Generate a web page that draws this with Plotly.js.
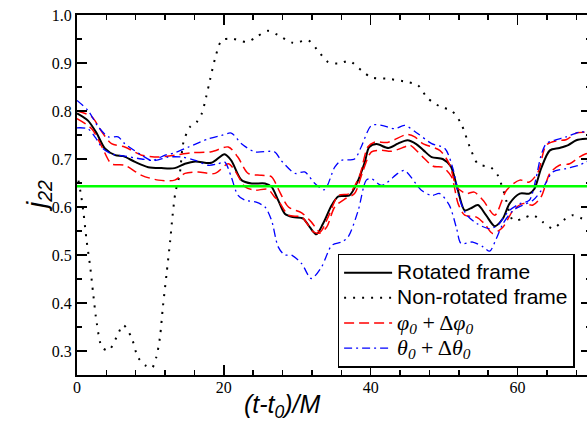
<!DOCTYPE html>
<html>
<head>
<meta charset="utf-8">
<script src="https://cdn.plot.ly/plotly-3.0.1.min.js"></script>
<style>
html, body { margin: 0; padding: 0; overflow: hidden; background: #fff; }
#chart { width: 591px; height: 426px; }
</style>
</head>
<body>
<div id="chart"></div>
<script>
// Rotated frame (solid black)
const rotX = [0, 1.5, 2.7, 3.8, 5.2, 6.3, 7.9, 9.7, 11.5, 13.3, 14.7, 16.1, 18.3, 20.1, 21.0, 22.4, 23.8, 25.6, 26.5, 27.4, 28.3, 29.4, 30.8, 31.7, 32.6, 33.5, 34.7, 35.6, 37.1, 38.3, 39.2, 39.8, 40.8, 42.4, 43.7, 45.0, 46.2, 47.2, 48.3, 49.8, 50.9, 51.7, 52.8, 53.6, 54.6, 55.7, 56.9, 58.0, 58.9, 60.3, 61.6, 62.3, 63.2, 64.4, 65.7, 66.9, 68.0, 69.3, 70];
const rotY = [0.795, 0.78, 0.753, 0.722, 0.708, 0.706, 0.694, 0.683, 0.681, 0.681, 0.69, 0.695, 0.692, 0.71, 0.697, 0.656, 0.649, 0.649, 0.642, 0.614, 0.586, 0.579, 0.576, 0.558, 0.543, 0.565, 0.604, 0.622, 0.624, 0.656, 0.694, 0.725, 0.731, 0.723, 0.732, 0.739, 0.731, 0.718, 0.704, 0.70, 0.685, 0.645, 0.593, 0.597, 0.604, 0.583, 0.56, 0.576, 0.607, 0.628, 0.628, 0.638, 0.68, 0.718, 0.723, 0.729, 0.739, 0.742, 0.742];

// Non-rotated frame (dotted black)
const nonX = [0.2, 0.6, 0.9, 1.3, 1.8, 2.2, 2.7, 3.4, 4.3, 5.4, 6.3, 7.4, 8.3, 9.3, 10.2, 10.8, 11.3, 11.7, 12.2, 12.7, 13.0, 13.4, 14.0, 14.5, 15.4, 16.3, 17.0, 17.6, 18.1, 18.8, 19.7, 21.0, 23.1, 24.4, 26.0, 27.4, 29.4, 31.5, 32.8, 34.2, 35.6, 37.1, 38.7, 40.1, 42.4, 45.1, 46.4, 47.8, 49.6, 51.0, 52.3, 53.5, 54.6, 56.4, 57.3, 58.2, 59.4, 60.7, 62.1, 63.4, 64.8, 66.2, 67.5, 68.8, 70];
const nonY = [0.655, 0.62, 0.586, 0.531, 0.475, 0.42, 0.357, 0.308, 0.301, 0.329, 0.354, 0.329, 0.287, 0.27, 0.265, 0.287, 0.329, 0.392, 0.461, 0.531, 0.58, 0.63, 0.67, 0.735, 0.767, 0.777, 0.795, 0.83, 0.864, 0.909, 0.947, 0.951, 0.944, 0.954, 0.967, 0.958, 0.942, 0.947, 0.926, 0.902, 0.899, 0.904, 0.885, 0.87, 0.867, 0.86, 0.854, 0.826, 0.808, 0.801, 0.774, 0.725, 0.69, 0.682, 0.666, 0.628, 0.572, 0.576, 0.583, 0.569, 0.555, 0.572, 0.583, 0.576, 0.57];

// phi_0 + delta phi_0 (red dashed, two curves)
const phiUpX = [0, 2.0, 3.4, 4.7, 6.5, 8.8, 11.1, 13.3, 15.6, 18.3, 20.6, 21.9, 23.3, 25.1, 26.5, 27.4, 28.8, 30.6, 31.9, 33.1, 34.2, 35.6, 37.1, 38.5, 39.6, 40.5, 42.4, 44.9, 46.0, 47.1, 49.4, 50.7, 51.7, 53.0, 54.1, 55.3, 56.9, 58.5, 60.3, 61.6, 62.8, 63.9, 65.3, 66.6, 68.0, 69.3, 70];
const phiUpY = [0.80, 0.788, 0.756, 0.732, 0.725, 0.708, 0.704, 0.708, 0.713, 0.715, 0.725, 0.704, 0.67, 0.666, 0.663, 0.638, 0.60, 0.588, 0.569, 0.548, 0.579, 0.624, 0.628, 0.666, 0.725, 0.735, 0.735, 0.751, 0.746, 0.732, 0.718, 0.69, 0.642, 0.628, 0.631, 0.614, 0.583, 0.635, 0.656, 0.652, 0.673, 0.729, 0.738, 0.74, 0.754, 0.756, 0.757];
const phiLoX = [0, 2.0, 3.4, 4.7, 6.5, 8.8, 11.1, 13.3, 14.7, 16.5, 18.8, 20.6, 21.5, 22.9, 24.2, 26.0, 26.9, 27.4, 28.8, 30.6, 32.2, 33.1, 34.0, 35.1, 36.5, 37.8, 38.9, 40.1, 41.5, 42.8, 44.6, 45.3, 47.1, 48.5, 49.8, 51.0, 51.9, 52.8, 54.4, 55.5, 56.6, 58.0, 59.4, 60.7, 62.1, 63.2, 64.4, 65.7, 67.1, 68.4, 69.3, 70];
const phiLoY = [0.784, 0.763, 0.725, 0.69, 0.687, 0.666, 0.656, 0.656, 0.67, 0.673, 0.67, 0.69, 0.676, 0.642, 0.635, 0.637, 0.621, 0.614, 0.583, 0.579, 0.548, 0.546, 0.558, 0.60, 0.617, 0.628, 0.673, 0.715, 0.718, 0.716, 0.725, 0.729, 0.704, 0.685, 0.683, 0.663, 0.607, 0.583, 0.579, 0.565, 0.545, 0.558, 0.593, 0.607, 0.604, 0.621, 0.67, 0.687, 0.69, 0.704, 0.711, 0.713];

// theta_0 + delta theta_0 (blue dash-dot, two curves)
const thUpX = [0, 1.5, 2.9, 4.3, 5.6, 6.5, 8.8, 10.2, 12.0, 13.3, 15.2, 17.9, 19.7, 21.0, 22.4, 24.2, 26.9, 27.8, 29.7, 31.0, 32.4, 33.7, 35.1, 36.0, 37.8, 38.7, 40.1, 41.5, 43.3, 44.6, 46.4, 48.3, 50.1, 51.2, 52.1, 53.0, 54.5, 56.2, 57.3, 58.0, 58.9, 60.3, 61.6, 62.5, 63.2, 63.9, 65.0, 66.6, 68.4, 70];
const thUpY = [0.822, 0.801, 0.767, 0.746, 0.746, 0.732, 0.708, 0.697, 0.708, 0.713, 0.725, 0.742, 0.749, 0.754, 0.732, 0.715, 0.715, 0.697, 0.67, 0.673, 0.649, 0.636, 0.683, 0.697, 0.70, 0.725, 0.77, 0.77, 0.763, 0.77, 0.753, 0.732, 0.722, 0.68, 0.617, 0.585, 0.565, 0.555, 0.562, 0.576, 0.593, 0.607, 0.614, 0.659, 0.708, 0.732, 0.739, 0.746, 0.756, 0.756];
const thLoX = [0, 1.5, 2.5, 3.5, 4.8, 6.5, 8.8, 10.7, 12.4, 14.3, 16.1, 17.9, 19.2, 20.1, 21.0, 21.9, 22.9, 24.4, 25.6, 26.5, 27.4, 28.3, 29.2, 30.6, 31.9, 33.3, 34.7, 36.0, 36.9, 38.3, 39.4, 40.1, 41.5, 43.7, 44.6, 46.9, 48.3, 49.4, 50.7, 51.7, 52.3, 53.9, 55.3, 56.2, 57.1, 58.0, 59.4, 60.7, 62.1, 63.4, 64.8, 66.6, 68.4, 69.3, 70];
const thLoY = [0.765, 0.763, 0.745, 0.722, 0.71, 0.706, 0.70, 0.697, 0.704, 0.704, 0.697, 0.687, 0.69, 0.694, 0.663, 0.625, 0.614, 0.61, 0.60, 0.572, 0.517, 0.50, 0.50, 0.482, 0.451, 0.475, 0.52, 0.527, 0.537, 0.593, 0.656, 0.659, 0.645, 0.67, 0.676, 0.635, 0.624, 0.628, 0.604, 0.555, 0.524, 0.527, 0.517, 0.508, 0.534, 0.565, 0.593, 0.604, 0.614, 0.638, 0.673, 0.68, 0.687, 0.694, 0.697];

// Horizontal reference level (green)
const refX = [0, 70];
const refY = [0.643, 0.643];

const legendNames = [
  '<span style="font-size:21px">Rotated frame</span>',
  '<span style="font-size:21px">Non-rotated frame</span>',
  '<span style="font-family:Liberation Serif;font-size:22px"><i>φ<sub>0</sub></i> + Δ<i>φ<sub>0</sub></i></span>',
  '<span style="font-family:Liberation Serif;font-size:22px"><i>θ<sub>0</sub></i> + Δ<i>θ<sub>0</sub></i></span>'
];
const xTickVals = [0, 20, 40, 60];
const xTickText = ['0', '20', '40', '60'];
const yTickVals = [0.3, 0.4, 0.5, 0.6, 0.7, 0.8, 0.9, 1.0];
const yTickText = ['0.3', '0.4', '0.5', '0.6', '0.7', '0.8', '0.9', '1.0'];

const SERIF = 'Liberation Serif';
const SANS = 'Liberation Sans';
const serifLabel = t => '<span style="font-family:Liberation Serif;font-size:16px">' + t + '</span>';

const traces = [
  {x: rotX, y: rotY, name: legendNames[0], mode: 'lines', line: {color: '#000', width: 2, shape: 'spline', smoothing: 0.8}},
  {x: nonX, y: nonY, name: legendNames[1], mode: 'lines', line: {color: '#000', width: 2, dash: '2px,7px', shape: 'spline', smoothing: 0.8}},
  {x: phiUpX, y: phiUpY, name: legendNames[2], legendgroup: 'phi', mode: 'lines', line: {color: '#ff0000', width: 1.5, dash: '10px,5px', shape: 'spline', smoothing: 0.8}},
  {x: phiLoX, y: phiLoY, name: legendNames[2], legendgroup: 'phi', showlegend: false, mode: 'lines', line: {color: '#ff0000', width: 1.5, dash: '10px,5px', shape: 'spline', smoothing: 0.8}},
  {x: thUpX, y: thUpY, name: legendNames[3], legendgroup: 'th', mode: 'lines', line: {color: '#0000ff', width: 1.3, dash: '8px,4px,2px,4px', shape: 'spline', smoothing: 0.8}},
  {x: thLoX, y: thLoY, name: legendNames[3], legendgroup: 'th', showlegend: false, mode: 'lines', line: {color: '#0000ff', width: 1.3, dash: '8px,4px,2px,4px', shape: 'spline', smoothing: 0.8}},
  {x: refX, y: refY, showlegend: false, mode: 'lines', line: {color: '#00ff00', width: 2.5}, hoverinfo: 'skip'}
];

const layout = {
  width: 591, height: 426,
  margin: {l: 77, r: 0, t: 15, b: 51, pad: 0},
  font: {family: SERIF, size: 16, color: '#000'},
  paper_bgcolor: '#fff', plot_bgcolor: '#fff',
  showlegend: true,
  xaxis: {
    range: [0, 70], tickmode: 'array', tickvals: xTickVals, ticktext: xTickText.map(serifLabel),
    ticks: 'inside', ticklen: 10, tickwidth: 1.5, tickcolor: '#000',
    showline: true, linecolor: '#000', linewidth: 2, mirror: 'allticks', showgrid: false, zeroline: false,
    tickfont: {family: SERIF, size: 16, color: '#000'}, ticklabelstandoff: -3,
    minor: {dtick: 4, ticks: 'inside', ticklen: 5, tickwidth: 1.5, tickcolor: '#000', showgrid: false}
  },
  yaxis: {
    range: [0.25, 1.0], tickmode: 'array', tickvals: yTickVals, ticktext: yTickText.map(serifLabel),
    ticks: 'inside', ticklen: 10, tickwidth: 1.5, tickcolor: '#000',
    showline: true, linecolor: '#000', linewidth: 2, mirror: 'allticks', showgrid: false, zeroline: false,
    tickfont: {family: SERIF, size: 16, color: '#000'},
    minor: {dtick: 0.05, tick0: 0.25, ticks: 'inside', ticklen: 5, tickwidth: 1.5, tickcolor: '#000', showgrid: false}
  },
  legend: {
    x: 0.507, y: 0.337, xanchor: 'left', yanchor: 'top',
    bgcolor: '#fff', bordercolor: '#000', borderwidth: 1.5,
    font: {family: SANS, size: 17, color: '#000'},
    itemwidth: 48, tracegroupgap: 0
  },
  annotations: [
    {text: '<i>(t-t<sub>0</sub>)/M</i>', xref: 'paper', yref: 'paper', x: 0.40, y: 0, yshift: -31,
     xanchor: 'center', yanchor: 'middle', showarrow: false,
     font: {family: SANS, size: 25, color: '#000'}},
    {text: '<i>j<sub>22</sub></i>', xref: 'paper', yref: 'paper', x: 0, xshift: -39, y: 0.497, textangle: -90,
     xanchor: 'center', yanchor: 'middle', showarrow: false,
     font: {family: SANS, size: 28, color: '#000'}}
  ]
};

Plotly.newPlot('chart', traces, layout, {displayModeBar: false, staticPlot: true});
</script>
</body>
</html>
